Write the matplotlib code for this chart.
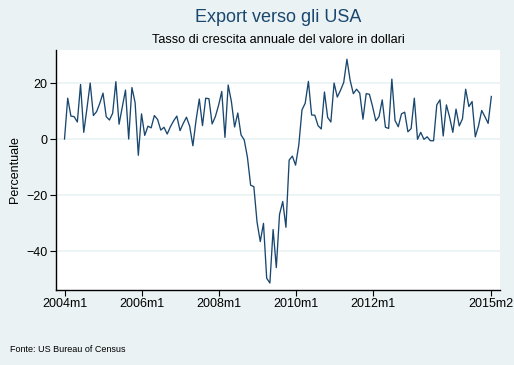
import matplotlib
matplotlib.use("Agg")
import matplotlib.pyplot as plt
import numpy as np

plt.rcParams['font.family'] = ['Liberation Sans', 'DejaVu Sans']

# Monthly growth rates, 2004m1 .. 2015m2
growth = [
    0, 14.6, 8.2, 8.0, 6.1, 19.5, 2.4, 11, 20, 8.4, 9.8, 12.8,
    16.4, 8, 6.8, 9.2, 20.5, 5.3, 11.5, 17.5, 0, 18.4, 13, -5.8,
    9, 1.3, 4.6, 4.0, 8.4, 7, 3.2, 4.2, 1.8, 4.4, 6.5, 8.2,
    3, 5.6, 7.8, 4.6, -2.4, 6.8, 14.3, 4.8, 14.6, 14.4, 5.4, 8,
    12, 17, 0.6, 19.3, 13.4, 4.3, 9.3, 1.5, -0.3, -6.5, -16.5, -17,
    -29.7, -36.6, -30.1, -49.7, -51.4, -32.3, -45.9, -26.9, -22.3, -31.5, -7.5, -6.1,
    -9.3, -2.2, 10.4, 12.8, 20.6, 8.6, 8.5, 4.8, 3.6, 16.8, 7.7, 6.1,
    20, 15, 17.4, 20.2, 28.5, 21, 16.2, 17.8, 16.4, 7.1, 16.2, 16,
    11.6, 6.5, 8, 14, 4.2, 3.8, 21.4, 6.6, 4.4, 9, 9.6, 2.6,
    3.7, 14.6, -0.1, 2.4, -0.1, 0.8, -0.6, -0.6, 12.2, 14, 1.1, 12.2,
    7.8, 2.4, 10.7, 4.7, 7.2, 17.8, 11.6, 13.4, 0.8, 4.7, 10.2, 8,
    5.6, 15.2,
]
month_index = np.arange(len(growth))
xtick_pos = [0, 24, 48, 72, 96, 133]
xtick_labels = ["2004m1", "2006m1", "2008m1", "2010m1", "2012m1", "2015m2"]
ytick_pos = [-40, -20, 0, 20]
ytick_labels = ["\u221240", "\u221220", "0", "20"]

bg = "#EAF2F3"
line_col = "#1A476F"

fig = plt.figure(figsize=(5.14, 3.65), dpi=100, facecolor=bg)
ax = fig.add_axes([56/514, 1-290/365, (500-56)/514, (290-50)/365])
ax.set_facecolor("white")

ax.plot(month_index, growth, color=line_col, lw=0.95)

ax.set_xlim(-2.65, 135.7)
ax.set_ylim(-53.9, 31.8)
ax.set_xticks(xtick_pos)
ax.set_xticklabels(xtick_labels, fontsize=9)
ax.set_yticks(ytick_pos)
ax.set_yticklabels(ytick_labels, fontsize=9)
ax.grid(axis='y', color=bg, lw=1.2)
ax.set_axisbelow(True)
for s in ['top', 'right']:
    ax.spines[s].set_visible(False)
for s in ['left', 'bottom']:
    ax.spines[s].set_linewidth(1.0)
    ax.spines[s].set_color('black')
ax.tick_params(length=4, width=0.8, pad=2)
ax.set_ylabel("Percentuale", fontsize=9)

fig.text(0.5 * (56 + 500) / 514, 1 - 18/365, "Export verso gli USA", ha='center', va='center',
         fontsize=13, color=line_col)
fig.text(0.5 * (56 + 500) / 514, 1 - 40/365, "Tasso di crescita annuale del valore in dollari",
         ha='center', va='center', fontsize=9.2, color='black')
fig.text(10/514, 1 - 350/365, "Fonte: US Bureau of Census", ha='left', va='center', fontsize=6.5)

fig.savefig("out.png", dpi=100, facecolor=bg)
